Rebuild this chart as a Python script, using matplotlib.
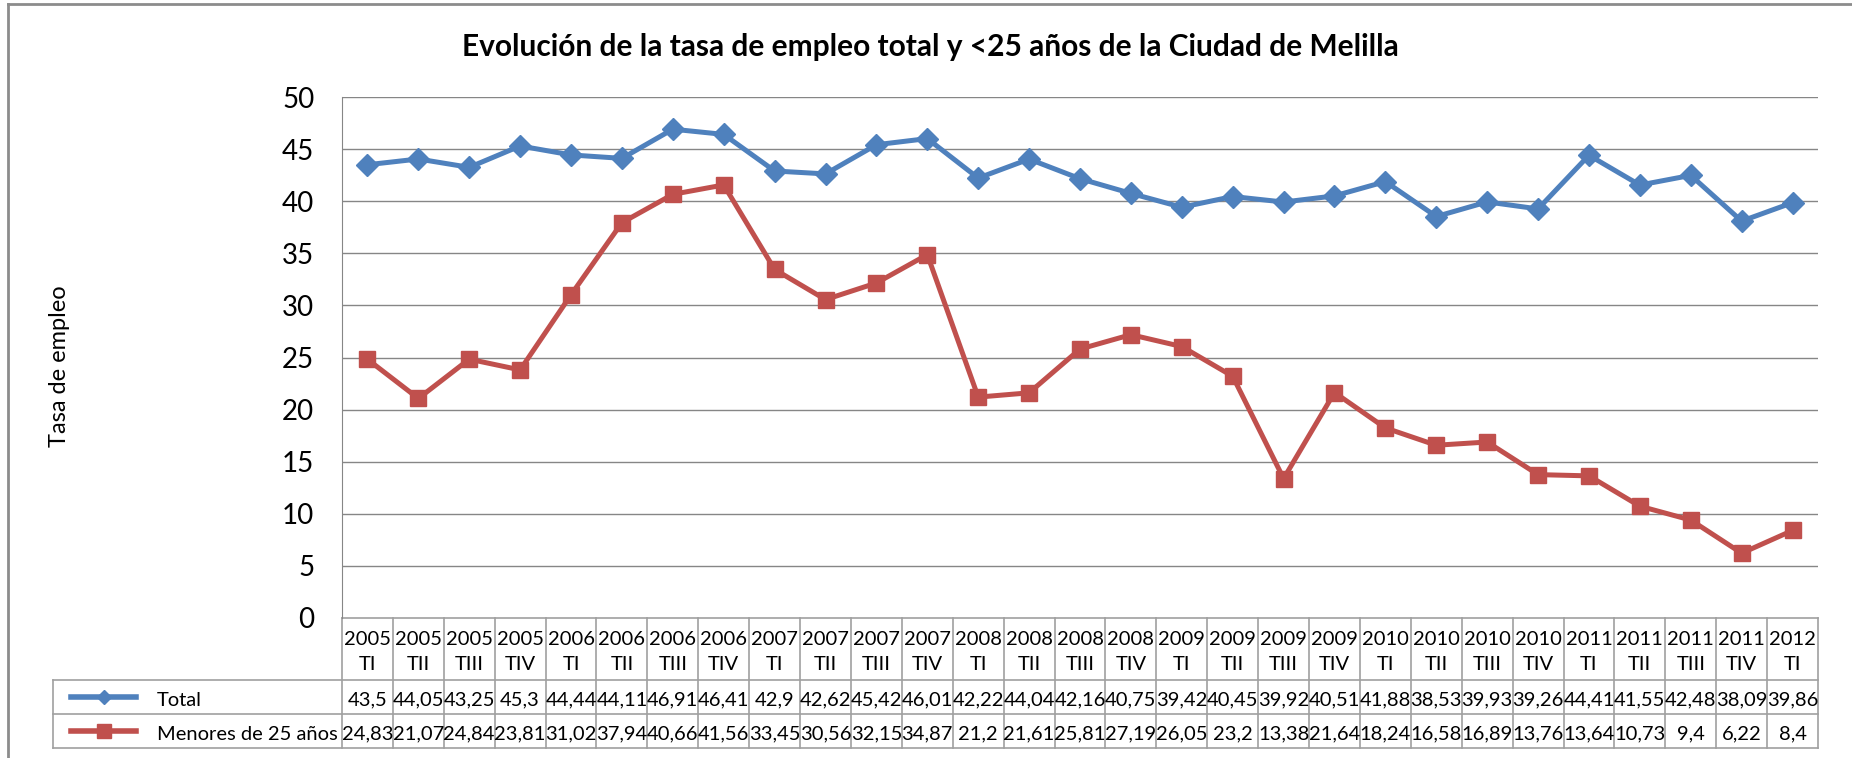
import matplotlib
matplotlib.use("Agg")
import matplotlib.pyplot as plt
import matplotlib.transforms as mtransforms
from matplotlib.lines import Line2D

years = ["2005", "2005", "2005", "2005", "2006", "2006", "2006", "2006",
         "2007", "2007", "2007", "2007", "2008", "2008", "2008", "2008",
         "2009", "2009", "2009", "2009", "2010", "2010", "2010", "2010",
         "2011", "2011", "2011", "2011", "2012"]
quarters = ["TI", "TII", "TIII", "TIV"] * 7 + ["TI"]
total = [43.5, 44.05, 43.25, 45.3, 44.44, 44.11, 46.91, 46.41, 42.9, 42.62,
         45.42, 46.01, 42.22, 44.04, 42.16, 40.75, 39.42, 40.45, 39.92, 40.51,
         41.88, 38.53, 39.93, 39.26, 44.41, 41.55, 42.48, 38.09, 39.86]
menores = [24.83, 21.07, 24.84, 23.81, 31.02, 37.94, 40.66, 41.56, 33.45, 30.56,
           32.15, 34.87, 21.2, 21.61, 25.81, 27.19, 26.05, 23.2, 13.38, 21.64,
           18.24, 16.58, 16.89, 13.76, 13.64, 10.73, 9.4, 6.22, 8.4]
series_names = ["Total", "Menores de 25 años"]
title = "Evolución de la tasa de empleo total y <25 años de la Ciudad de Melilla"
ylabel = "Tasa de empleo"
yticks = [0, 5, 10, 15, 20, 25, 30, 35, 40, 45, 50]

plt.rcParams['font.family'] = ['Lato', 'DejaVu Sans']

W, H = 1852, 758
fig = plt.figure(figsize=(W / 100, H / 100), dpi=100)
left_px, right_px, top_px, bot_px = 342, 1818, 97, 618
ax = fig.add_axes([left_px / W, 1 - bot_px / H, (right_px - left_px) / W, (bot_px - top_px) / H])

blue = "#4F81BD"
red = "#C0504D"
grid_c = "#868686"
tab_c = "#A0A0A0"

x = list(range(len(total)))
ax.plot(x, total, color=blue, lw=3.6, marker="D", ms=11, zorder=3, clip_on=False)
ax.plot(x, menores, color=red, lw=3.6, marker="s", ms=12, zorder=3, clip_on=False)

ax.set_xlim(-0.5, len(total) - 0.5)
ax.set_ylim(0, 50)
ax.set_yticks(yticks)
ax.tick_params(axis="y", length=0, labelsize=20, pad=20, colors="#000000")
ax.set_xticks([])
for yv in yticks[1:]:
    ax.axhline(yv, color=grid_c, lw=1, zorder=1)
for s in ["top", "right", "bottom"]:
    ax.spines[s].set_visible(False)
ax.spines["left"].set_color(grid_c)

# title and ylabel
fig.text(930 / W, 1 - 47 / H, title, ha="center", va="center", fontsize=21.5, fontweight="bold")
fig.text(59 / W, 1 - 366 / H, ylabel, ha="center", va="center", rotation=90, fontsize=17)

# data table
ah = bot_px - top_px
y_hdr_top = 0.0
y_hdr_bot = -(680 - bot_px) / ah
y_tot_bot = -(714 - bot_px) / ah
y_men_bot = -(748 - bot_px) / ah
leg_left = (53 - left_px) / (right_px - left_px)

bt = mtransforms.blended_transform_factory(ax.transData, ax.transAxes)
at = ax.transAxes
n = len(total)
lk = dict(color=tab_c, lw=1.2, clip_on=False)
# horizontal lines
ax.add_line(Line2D([-0.5, n - 0.5], [y_hdr_top] * 2, transform=bt, **lk))
ax.add_line(Line2D([leg_left, 1], [y_hdr_bot] * 2, transform=at, **lk))
ax.add_line(Line2D([leg_left, 1], [y_tot_bot] * 2, transform=at, **lk))
ax.add_line(Line2D([leg_left, 1], [y_men_bot] * 2, transform=at, **lk))
# vertical lines
for i in range(n + 1):
    ax.add_line(Line2D([i - 0.5, i - 0.5], [y_hdr_top, y_men_bot], transform=bt, **lk))
ax.add_line(Line2D([leg_left, leg_left], [y_hdr_bot, y_men_bot], transform=at, **lk))

fs_tab = 14.5
shift = -0.006
y_year = (y_hdr_top + y_hdr_bot) / 2 + 0.019
y_q = (y_hdr_top + y_hdr_bot) / 2 - 0.030
y_tot = (y_hdr_bot + y_tot_bot) / 2
y_men = (y_tot_bot + y_men_bot) / 2
for i in range(n):
    ax.text(i, y_year, years[i], transform=bt, ha="center", va="center", fontsize=fs_tab)
    ax.text(i, y_q, quarters[i], transform=bt, ha="center", va="center", fontsize=fs_tab)
    ax.text(i, y_tot + shift, f"{total[i]:g}".replace(".", ","), transform=bt, ha="center", va="center", fontsize=fs_tab)
    ax.text(i, y_men + shift, f"{menores[i]:g}".replace(".", ","), transform=bt, ha="center", va="center", fontsize=fs_tab)

# legend keys in table
lx0 = (71 - left_px) / (right_px - left_px)
lx1 = (136 - left_px) / (right_px - left_px)
lxm = (lx0 + lx1) / 2
tx = (157 - left_px) / (right_px - left_px)
ax.add_line(Line2D([lx0, lx1], [y_tot] * 2, transform=at, color=blue, lw=4, clip_on=False))
ax.add_line(Line2D([lxm], [y_tot], transform=at, color=blue, marker="D", ms=7, lw=0, clip_on=False))
ax.add_line(Line2D([lx0, lx1], [y_men] * 2, transform=at, color=red, lw=4, clip_on=False))
ax.add_line(Line2D([lxm], [y_men], transform=at, color=red, marker="s", ms=10, lw=0, clip_on=False))
ax.text(tx, y_tot + shift, series_names[0], transform=at, ha="left", va="center", fontsize=fs_tab)
ax.text(tx, y_men + shift, series_names[1], transform=at, ha="left", va="center", fontsize=fs_tab)

# outer frame
fig.add_artist(Line2D([8 / W, 8 / W], [0, 1 - 4 / H], transform=fig.transFigure, color="#8C8C8C", lw=2))
fig.add_artist(Line2D([8 / W, 1], [1 - 4 / H, 1 - 4 / H], transform=fig.transFigure, color="#8C8C8C", lw=2))

fig.savefig("out.png", dpi=100)
